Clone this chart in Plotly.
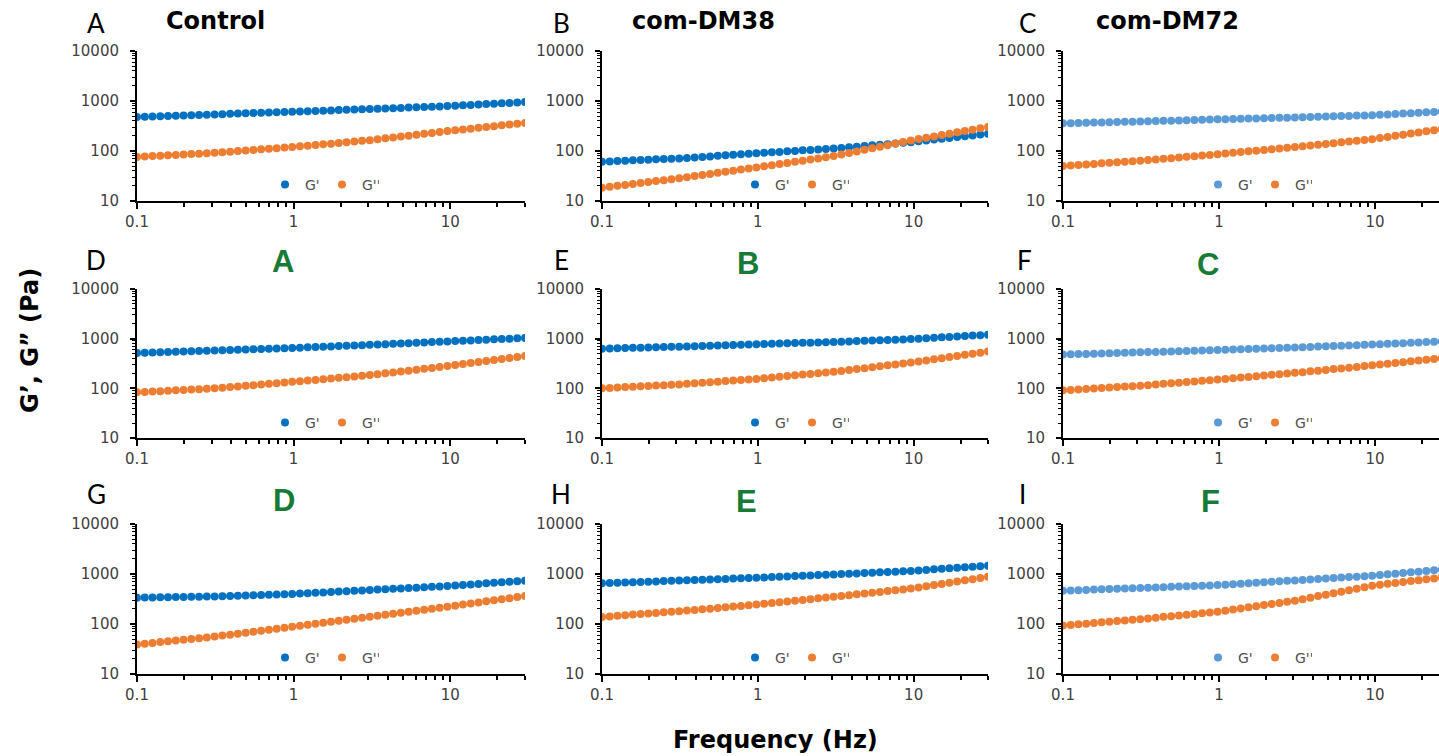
import plotly.graph_objects as go

# ---------------- data ----------------
freq = [0.1, 0.1121, 0.1256, 0.1408, 0.1578, 0.1769, 0.1983, 0.2222, 0.2490, 0.2791,
        0.3129, 0.3507, 0.3930, 0.4405, 0.4937, 0.5534, 0.6202, 0.6951, 0.7791, 0.8734,
        0.9791, 1.0974, 1.2301, 1.3787, 1.5453, 1.7321, 1.9414, 2.1761, 2.4391, 2.7338,
        3.0642, 3.4346, 3.8496, 4.3149, 4.8364, 5.4209, 6.0760, 6.8103, 7.6335, 8.5559,
        9.5899, 10.749, 12.048, 13.504, 15.136, 16.965, 19.015, 21.313, 23.889, 26.776, 30.0]

A_Gp = [480, 485, 490, 497, 502, 508, 513, 520, 526, 533, 540, 546, 553, 560, 566, 574, 581, 587, 595, 602,
        610, 618, 625, 633, 641, 649, 657, 665, 673, 682, 690, 699, 709, 718, 728, 738, 748, 758, 769, 779,
        790, 805, 819, 835, 850, 866, 882, 898, 915, 932, 950]
A_Gpp = [76, 77.5, 79, 80.5, 82, 83.5, 85, 86.8, 88.5, 90.2, 92, 94.5, 97, 99.6, 102, 105, 108, 111, 114, 117,
         120, 124, 128, 132, 136, 140, 145, 150, 155, 160, 165, 172, 179, 187, 195, 203, 212, 221, 230, 240,
         250, 260, 270, 280, 291, 302, 314, 326, 338, 351, 365]

B_Gp = [61, 62, 63, 64, 65, 66, 67, 68, 69, 70, 71, 72.7, 74.5, 76.2, 78, 80, 82, 84, 86, 88,
        90, 92, 94, 96, 98.5, 100.5, 103, 105, 107.5, 110, 112, 115, 119, 122, 126, 130, 133, 137, 141, 146,
        150, 156, 162, 169, 176, 183, 190, 198, 205, 213, 222]
B_Gpp = [18.5, 19.3, 20.2, 21.0, 21.9, 22.9, 23.9, 25.0, 26.1, 27.3, 28.5, 30.0, 31.5, 33.1, 34.8, 36.6, 38.5,
         40.5, 42.5, 44.7, 47.0, 49.5, 52.1, 54.9, 57.8, 60.9, 64.1, 67.5, 71.1, 74.9, 79, 85, 91.3, 98.1,
         105.5, 113, 122, 131, 141, 152, 163, 173, 184, 196, 209, 222, 236, 251, 267, 284, 302]

C_Gp = [357, 360, 363, 366, 370, 373, 376, 380, 383, 386, 390, 394, 398, 402, 405, 409, 413, 417, 421, 426,
        430, 434, 437, 441, 445, 448, 452, 456, 460, 464, 468, 473, 478, 483, 488, 494, 499, 504, 510, 515,
        520, 530, 540, 551, 561, 572, 583, 594, 606, 618, 630]
C_Gpp = [50, 51.2, 52.5, 53.8, 55.2, 56.6, 58, 59.5, 61, 62.5, 64, 65.9, 67.9, 70, 72, 74.2, 76.5, 78.8, 81.1,
         83.5, 86, 88.9, 91.9, 95.1, 98.3, 101.6, 105, 108.6, 112.3, 116.1, 120, 124.4, 129, 133.7, 138.6,
         143.7, 149, 154.5, 160.2, 166, 172, 181, 191, 201, 212, 223, 235, 248, 261, 275, 290]

D_Gp = [515, 521, 526, 532, 538, 544, 550, 556, 562, 569, 575, 582, 589, 596, 604, 611, 619, 626, 634, 642,
        650, 659, 669, 678, 688, 698, 708, 718, 729, 739, 750, 762, 774, 787, 799, 812, 825, 838, 852, 866,
        880, 894, 908, 923, 938, 953, 968, 983, 999, 1015, 1030]
D_Gpp = [83, 84.6, 86.1, 87.8, 89.4, 91.1, 92.8, 94.6, 96.3, 98.1, 100, 103, 106, 109, 113, 116, 120, 123, 127,
         131, 135, 139, 144, 148, 153, 158, 163, 168, 174, 179, 185, 193, 201, 209, 218, 227, 237, 247, 257,
         268, 280, 294, 308, 323, 339, 355, 372, 390, 409, 429, 450]

E_Gp = [630, 636, 641, 647, 653, 659, 665, 671, 678, 684, 690, 698, 705, 713, 721, 729, 737, 745, 753, 762,
        770, 779, 787, 796, 805, 814, 823, 832, 841, 851, 860, 871, 882, 894, 906, 917, 929, 942, 954, 967,
        980, 1000, 1020, 1041, 1063, 1084, 1107, 1129, 1152, 1176, 1200]
E_Gpp = [100, 102, 104, 106, 108, 110, 112, 114, 116, 118, 120, 123, 126, 130, 133, 136, 140, 144, 147, 151,
         155, 160, 165, 171, 177, 183, 189, 195, 201, 208, 215, 224, 234, 244, 255, 266, 278, 290, 302, 316,
         330, 347, 365, 385, 405, 426, 448, 472, 497, 523, 550]

F_Gp = [480, 485, 490, 494, 499, 504, 509, 514, 519, 525, 530, 536, 541, 547, 553, 559, 565, 571, 577, 584,
        590, 597, 604, 611, 618, 626, 633, 641, 649, 657, 665, 674, 683, 692, 701, 711, 720, 730, 740, 750,
        760, 773, 786, 800, 813, 827, 841, 855, 870, 885, 900]
F_Gpp = [91, 93, 95, 97.1, 99.3, 101.5, 103.7, 106, 108.3, 110.7, 113, 116, 120, 123, 127, 130, 134, 138, 142,
         146, 150, 155, 160, 165, 170, 175, 181, 187, 192, 199, 205, 212, 220, 227, 235, 244, 252, 261, 270,
         280, 290, 301, 312, 324, 336, 349, 362, 376, 390, 405, 420]

G_Gp = [336, 337, 339, 341, 343, 345, 347, 349, 351, 353, 355, 359, 363, 368, 372, 377, 381, 386, 390, 395,
        400, 407, 414, 422, 429, 437, 445, 453, 461, 469, 478, 487, 496, 505, 514, 524, 533, 543, 553, 564,
        575, 589, 604, 619, 634, 650, 666, 682, 699, 717, 735]
G_Gpp = [39, 40.4, 41.9, 43.5, 45.1, 46.7, 48.4, 50.2, 52.1, 54, 56, 58.6, 61.3, 64.1, 67.1, 70.2, 73.4, 76.8,
         80.4, 84.1, 88, 92.2, 96.6, 101, 106, 111, 116, 122, 127, 134, 140, 147, 153, 161, 168, 176, 184, 193,
         202, 212, 222, 233, 245, 257, 270, 284, 298, 313, 329, 346, 363]

H_Gp = [650, 658, 667, 676, 684, 693, 702, 711, 721, 730, 740, 749, 759, 769, 778, 788, 798, 809, 819, 830,
        840, 853, 866, 880, 893, 907, 921, 935, 950, 965, 980, 996, 1012, 1028, 1045, 1061, 1078, 1096, 1113,
        1131, 1150, 1179, 1208, 1238, 1269, 1301, 1333, 1366, 1400, 1435, 1470]
H_Gpp = [138, 142, 146, 150, 154, 158, 162, 166, 171, 175, 180, 186, 191, 197, 203, 210, 216, 223, 230, 237,
         245, 254, 263, 273, 283, 293, 303, 314, 326, 338, 350, 363, 377, 392, 407, 422, 439, 455, 473, 491,
         510, 539, 569, 601, 634, 670, 707, 747, 789, 833, 880]

I_Gp = [463, 469, 475, 481, 487, 493, 499, 506, 512, 519, 525, 532, 539, 546, 554, 561, 568, 576, 584, 592,
        600, 613, 626, 640, 654, 668, 683, 698, 713, 729, 745, 761, 778, 795, 812, 830, 848, 867, 886, 905,
        925, 954, 984, 1015, 1047, 1080, 1114, 1149, 1185, 1222, 1260]
I_Gpp = [93, 95.8, 98.7, 101.7, 104.8, 108, 111, 114.5, 118, 121.5, 125, 129, 134, 139, 143, 148, 153, 159,
         164, 170, 176, 185, 195, 205, 216, 227, 239, 251, 264, 278, 293, 314, 336, 361, 386, 414, 444, 475,
         509, 546, 585, 610, 637, 664, 692, 721, 752, 784, 817, 852, 888]

panel_letters = ["A", "B", "C", "D", "E", "F", "G", "H", "I"]
col_titles = ["Control", "com-DM38", "com-DM72"]
green_letters = ["A", "B", "C", "D", "E", "F"]
series_names = ["G'", "G''"]
x_tickvals = [0.1, 1, 10]
x_ticktext = ["0.1", "1", "10"]
y_tickvals = [10, 100, 1000, 10000]
y_ticktext = ["10", "100", "1000", "10000"]

panels_gp = [A_Gp, B_Gp, C_Gp, D_Gp, E_Gp, F_Gp, G_Gp, H_Gp, I_Gp]
panels_gpp = [A_Gpp, B_Gpp, C_Gpp, D_Gpp, E_Gpp, F_Gpp, G_Gpp, H_Gpp, I_Gpp]

# ---------------- layout geometry (pixels) ----------------
W, H = 1439, 756
col_px = [(137, 525), (602, 988), (1063, 1439)]
row_px = [(51, 201), (289, 438), (524, 674)]
x_ranges = [[-1, 1.477], [-1, 1.477], [-1, 1.41]]
legend_cx = [322, 792, 1255]
legend_cy = [185, 423, 658]

DARK_BLUE = "#0070C0"
LIGHT_BLUE = "#5B9BD5"
ORANGE = "#ED7D31"
TICK_COLOR = "#404040"

x_minor = [0.2, 0.3, 0.4, 0.5, 0.6, 0.7, 0.8, 0.9, 2, 3, 4, 5, 6, 7, 8, 9, 20, 30]
y_minor = [20, 30, 40, 50, 60, 70, 80, 90, 200, 300, 400, 500, 600, 700, 800, 900,
           2000, 3000, 4000, 5000, 6000, 7000, 8000, 9000]

fig = go.Figure()
layout = {}

for i in range(9):
    r, c = divmod(i, 3)
    n = i + 1
    xa = "x" if n == 1 else f"x{n}"
    ya = "y" if n == 1 else f"y{n}"
    lg = "legend" if n == 1 else f"legend{n}"
    gp_color = LIGHT_BLUE if c == 2 else DARK_BLUE
    fig.add_trace(go.Scatter(x=freq, y=panels_gp[i], mode="markers", name=series_names[0],
                             marker=dict(color=gp_color, size=8), xaxis=xa, yaxis=ya, legend=lg))
    fig.add_trace(go.Scatter(x=freq, y=panels_gpp[i], mode="markers", name=series_names[1],
                             marker=dict(color=ORANGE, size=8), xaxis=xa, yaxis=ya, legend=lg))

    x0, x1 = col_px[c]
    y0, y1 = row_px[r]
    layout["xaxis" if n == 1 else f"xaxis{n}"] = dict(
        type="log", range=x_ranges[c], domain=[x0 / W, x1 / W], anchor=ya, automargin=False,
        showgrid=False, zeroline=False, showline=True, linecolor="black", linewidth=2,
        tickmode="array", tickvals=x_tickvals, ticktext=x_ticktext,
        ticks="outside", ticklen=6, tickwidth=2, tickcolor="black",
        minor=dict(tickmode="array", tickvals=x_minor, ticks="outside", ticklen=4,
                   tickwidth=1.5, tickcolor="black", showgrid=False),
        tickfont=dict(family="DejaVu Sans", size=15, color=TICK_COLOR),
    )
    layout["yaxis" if n == 1 else f"yaxis{n}"] = dict(
        type="log", range=[1, 4], domain=[1 - y1 / H, 1 - y0 / H], anchor=xa, automargin=False,
        showgrid=False, zeroline=False, showline=True, linecolor="black", linewidth=2,
        tickmode="array", tickvals=y_tickvals, ticktext=y_ticktext,
        ticks="outside", ticklen=5, tickwidth=1.5, tickcolor="black",
        minor=dict(tickmode="array", tickvals=y_minor, ticks="outside", ticklen=3,
                   tickwidth=1, tickcolor="black", showgrid=False),
        tickfont=dict(family="DejaVu Sans", size=15, color=TICK_COLOR),
        ticklabelstandoff=8,
    )
    layout[lg] = dict(
        orientation="h", x=legend_cx[c] / W, y=1 - legend_cy[r] / H,
        xanchor="center", yanchor="middle", bgcolor="rgba(0,0,0,0)",
        font=dict(family="DejaVu Sans", size=14, color="#505050"),
        itemwidth=30, tracegroupgap=0, entrywidth=12, entrywidthmode="pixels",
    )

annotations = []
letter_pos = [(96, 23), (561, 23), (1027, 23),
              (96, 260), (561, 260), (1024, 260),
              (96, 494), (561, 494), (1022, 494)]
for t, (px, py) in zip(panel_letters, letter_pos):
    annotations.append(dict(text=t, x=px / W, y=1 - py / H, xref="paper", yref="paper",
                            xanchor="center", yanchor="middle", showarrow=False,
                            font=dict(family="Lato", size=26, color="black")))

title_pos = [(216, 21), (703, 21), (1167, 21)]
for t, (px, py) in zip(col_titles, title_pos):
    annotations.append(dict(text=f"<b>{t}</b>", x=px / W, y=1 - py / H, xref="paper", yref="paper",
                            xanchor="center", yanchor="middle", showarrow=False,
                            font=dict(family="DejaVu Sans", size=24, color="black")))

green_pos = [(283, 261), (748, 263), (1208, 265), (284, 500), (746, 501), (1210, 501)]
for t, (px, py) in zip(green_letters, green_pos):
    annotations.append(dict(text=f"<b>{t}</b>", x=px / W, y=1 - py / H, xref="paper", yref="paper",
                            xanchor="center", yanchor="middle", showarrow=False,
                            font=dict(family="Liberation Sans", size=31, color="#177A35")))

annotations.append(dict(text="<b>G’, G” (Pa)</b>", x=30 / W, y=1 - 341 / H, xref="paper", yref="paper",
                        xanchor="center", yanchor="middle", showarrow=False, textangle=-90,
                        font=dict(family="DejaVu Sans", size=24, color="black")))
annotations.append(dict(text="<b>Frequency (Hz)</b>", x=775 / W, y=1 - 740 / H, xref="paper", yref="paper",
                        xanchor="center", yanchor="middle", showarrow=False,
                        font=dict(family="DejaVu Sans", size=24, color="black")))

layout.update(dict(
    template="none",
    width=W, height=H, margin=dict(l=0, r=0, t=0, b=0, autoexpand=False),
    paper_bgcolor="white", plot_bgcolor="white",
    showlegend=True, annotations=annotations,
))
fig.update_layout(**layout)

fig.write_html("out.html", config={"displayModeBar": False},
               post_script="document.body.style.margin='0';document.body.style.overflow='hidden';")
